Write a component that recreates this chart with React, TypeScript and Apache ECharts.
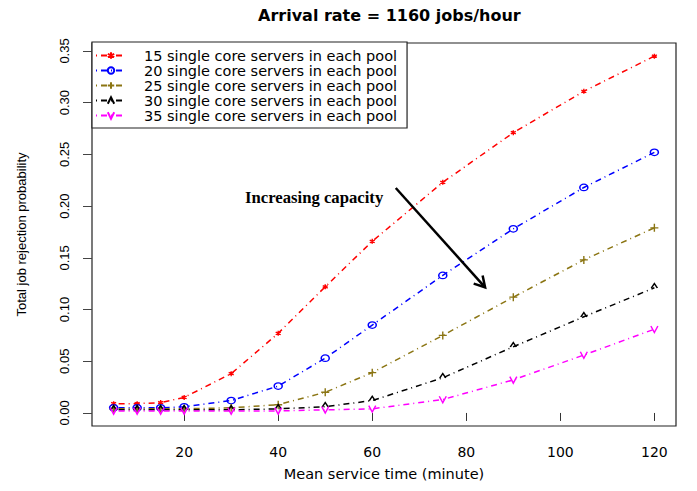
import React, { useEffect, useRef } from "react";
import * as echarts from "echarts";

// ---- data ----
const xValues = [5, 10, 15, 20, 30, 40, 50, 60, 75, 90, 105, 120];
const servers15 = [0.009, 0.009, 0.01, 0.015, 0.038, 0.077, 0.122, 0.166, 0.223, 0.271, 0.311, 0.345];
const servers20 = [0.005, 0.005, 0.005, 0.006, 0.012, 0.026, 0.053, 0.085, 0.133, 0.178, 0.218, 0.252];
const servers25 = [0.004, 0.004, 0.004, 0.004, 0.005, 0.008, 0.02, 0.039, 0.075, 0.112, 0.148, 0.179];
const servers30 = [0.003, 0.003, 0.003, 0.003, 0.003, 0.004, 0.006, 0.012, 0.034, 0.064, 0.093, 0.121];
const servers35 = [0.002, 0.002, 0.002, 0.002, 0.002, 0.002, 0.003, 0.004, 0.013, 0.032, 0.056, 0.081];
const seriesNames = [
  "15 single core servers in each pool",
  "20 single core servers in each pool",
  "25 single core servers in each pool",
  "30 single core servers in each pool",
  "35 single core servers in each pool",
];
const xTicks = [20, 40, 60, 80, 100, 120];
const yTicks = [0, 0.05, 0.1, 0.15, 0.2, 0.25, 0.3, 0.35];
const titleText = "Arrival rate = 1160 jobs/hour";
const xAxisName = "Mean service time (minute)";
const yAxisName = "Total job rejection probability";
const annotationText = "Increasing capacity";
const annotationPos = [47, 0.2085];
const arrowCoords = [65, 0.2175, 84, 0.1215];

const SYM_STAR = "path://M5,0L5,10M0.67,2.5L9.33,7.5M0.67,7.5L9.33,2.5";
const SYM_O = "path://M0,5A5,5,0,1,1,10,5A5,5,0,1,1,0,5Z";
const SYM_PLUS = "path://M5,0L5,10M0,5L10,5";
const SYM_CARET = "path://M0,10L5,0L10,10";
const SYM_V = "path://M0,0L5,10L10,0";

const styles = [
  { color: "#ff0000", symbol: SYM_STAR, size: [5, 5], offset: [0, 0] },
  { color: "#0000ff", symbol: SYM_O, size: [8, 6.5], offset: [0, 0] },
  { color: "#8b7513", symbol: SYM_PLUS, size: [8, 8], offset: [0, 0] },
  { color: "#000000", symbol: SYM_CARET, size: [6, 4.5], offset: [0, -2] },
  { color: "#ff00ff", symbol: SYM_V, size: [7, 6.5], offset: [0, 0] },
];
const allSeries = [servers15, servers20, servers25, servers30, servers35];

export default function App() {
  const ref = useRef<HTMLDivElement>(null);
  useEffect(() => {
    const chart = echarts.init(ref.current!, null, { renderer: "svg" });
    const lineSeries = allSeries.map((vals, i) => ({
      name: seriesNames[i],
      type: "line",
      data: xValues.map((x, j) => [x, vals[j]]),
      symbol: styles[i].symbol,
      symbolSize: styles[i].size,
      symbolOffset: styles[i].offset,
      showAllSymbol: true,
      lineStyle: { color: styles[i].color, width: 1.5, type: [1, 4, 6, 4] },
      itemStyle: { color: "rgba(0,0,0,0)", borderColor: styles[i].color, borderWidth: 1.4 },
      emphasis: { disabled: true },
      z: 3,
    }));
    const option: any = {
      animation: false,
      backgroundColor: "#fff",
      textStyle: { fontFamily: "DejaVu Sans" },
      title: {
        text: titleText,
        left: 253,
        top: 2,
        textStyle: { fontFamily: "DejaVu Sans", fontWeight: "bold", fontSize: 16, color: "#000" },
      },
      grid: { left: 92, right: 21, top: 43, bottom: 65, show: true, borderColor: "#222", borderWidth: 1.2 },
      legend: {
        data: seriesNames,
        orient: "vertical",
        left: 92,
        top: 42,
        itemWidth: 30,
        itemHeight: 8,
        itemGap: 0,
        padding: [6, 10, 5, 3],
        borderColor: "#222",
        borderWidth: 1.2,
        backgroundColor: "#fff",
        selectedMode: false,
        textStyle: { fontFamily: "DejaVu Sans", fontSize: 14.5, color: "#000", lineHeight: 15, padding: [0, 0, 0, 13] },
      },
      xAxis: {
        type: "value",
        min: 0.4,
        max: 124.6,
        name: xAxisName,
        nameLocation: "middle",
        nameGap: 40,
        nameTextStyle: { fontFamily: "DejaVu Sans", fontSize: 14.5, color: "#000" },
        axisLine: { show: false },
        splitLine: { show: false },
        axisTick: { show: true, customValues: xTicks, length: 8, lineStyle: { color: "#333", width: 1 } },
        axisLabel: { customValues: xTicks, margin: 19, fontFamily: "DejaVu Sans", fontSize: 14, color: "#000" },
      },
      yAxis: {
        type: "value",
        min: -0.0126,
        max: 0.3577,
        name: yAxisName,
        nameLocation: "middle",
        nameGap: 64,
        nameTextStyle: { fontFamily: "Liberation Sans", fontSize: 13, color: "#000" },
        axisLine: { show: false },
        splitLine: { show: false },
        axisTick: { show: true, customValues: yTicks, length: 9, lineStyle: { color: "#444", width: 1 } },
        axisLabel: {
          customValues: yTicks,
          rotate: 90,
          margin: 21,
          fontFamily: "Liberation Sans",
          fontSize: 13,
          color: "#000",
          formatter: (v: number) => v.toFixed(2),
        },
      },
      series: [
        ...lineSeries,
        {
          type: "custom",
          silent: true,
          clip: false,
          z: 5,
          data: [[...arrowCoords, ...annotationPos]],
          renderItem: (params: any, api: any) => {
            const p1 = api.coord([api.value(0), api.value(1)]);
            const p2 = api.coord([api.value(2), api.value(3)]);
            const pt = api.coord([api.value(4), api.value(5)]);
            const ang = Math.atan2(p2[1] - p1[1], p2[0] - p1[0]);
            const len = 12;
            const a1 = ang + Math.PI - Math.PI / 6;
            const a2 = ang + Math.PI + Math.PI / 6;
            return {
              type: "group",
              children: [
                {
                  type: "line",
                  shape: { x1: p1[0], y1: p1[1], x2: p2[0], y2: p2[1] },
                  style: { stroke: "#000", lineWidth: 2.5 },
                },
                {
                  type: "polyline",
                  shape: {
                    points: [
                      [p2[0] + len * Math.cos(a1), p2[1] + len * Math.sin(a1)],
                      [p2[0], p2[1]],
                      [p2[0] + len * Math.cos(a2), p2[1] + len * Math.sin(a2)],
                    ],
                  },
                  style: { stroke: "#000", lineWidth: 2.5, fill: null },
                },
                {
                  type: "text",
                  x: pt[0] + 3,
                  y: pt[1],
                  style: {
                    text: annotationText,
                    fontFamily: "Liberation Serif",
                    fontWeight: "bold",
                    fontSize: 16.7,
                    fill: "#000",
                    align: "center",
                    verticalAlign: "middle",
                  },
                },
              ],
            };
          },
        },
      ],
    };
    chart.setOption(option);
    return () => chart.dispose();
  }, []);
  return (
    <div
      ref={ref}
      style={{ position: "fixed", left: 0, top: 0, width: 697, height: 491, background: "#fff" }}
    />
  );
}
